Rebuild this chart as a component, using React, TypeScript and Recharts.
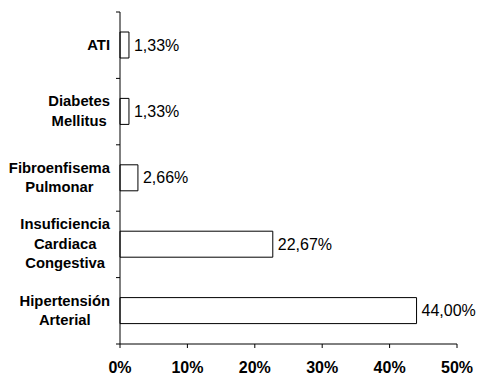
import { BarChart, Bar, XAxis, YAxis, LabelList } from 'recharts';

const categories = [
  ['ATI'],
  ['Diabetes', 'Mellitus'],
  ['Fibroenfisema', 'Pulmonar'],
  ['Insuficiencia', 'Cardiaca', 'Congestiva'],
  ['Hipertensión', 'Arterial'],
];
const percentages = [1.33, 1.33, 2.66, 22.67, 44.0];
const xTicks = [0, 10, 20, 30, 40, 50];

const data = categories.map((lines, i) => ({
  name: lines.join(' '),
  value: percentages[i],
}));

const W = 498;
const H = 381;
const M = { top: 12, right: 41, bottom: 0, left: 0 };
const X_AXIS_H = 37;
const Y_AXIS_W = 120;
const BAND = (H - M.top - X_AXIS_H) / categories.length;
const FONT = '"Liberation Sans", Arial, sans-serif';
const LABEL_FONT_SIZE = 14.8;
const LINE_H = 19.5;

let ctx: CanvasRenderingContext2D | null = null;
function textWidth(t: string) {
  if (!ctx) ctx = document.createElement('canvas').getContext('2d');
  if (!ctx) return t.length * 8;
  ctx.font = `bold ${LABEL_FONT_SIZE}px ${FONT}`;
  return ctx.measureText(t).width;
}

const CategoryTick = ({ x, y, index }: any) => {
  const lines = categories[index] || [];
  const maxW = Math.max(...lines.map(textWidth));
  const right = x - 6;
  const cx = right - maxW / 2;
  const firstBase = y - ((lines.length - 1) * LINE_H) / 2 + 4.5;
  const axisX = x + 4;
  return (
    <g>
      <line x1={axisX - 4} x2={axisX} y1={y - BAND / 2} y2={y - BAND / 2} stroke="#000" />
      {index === categories.length - 1 && (
        <line x1={axisX - 4} x2={axisX} y1={y + BAND / 2} y2={y + BAND / 2} stroke="#000" />
      )}
      <text
        x={cx}
        y={firstBase}
        textAnchor="middle"
        fontFamily={FONT}
        fontWeight="bold"
        fontSize={LABEL_FONT_SIZE}
        fill="#000"
      >
        {lines.map((l: string, i: number) => (
          <tspan key={i} x={cx} y={firstBase + i * LINE_H}>
            {l}
          </tspan>
        ))}
      </text>
    </g>
  );
};

export default function App() {
  return (
    <div style={{ position: 'absolute', left: 0, top: 0, width: W, height: H, background: '#fff' }}>
      <BarChart width={W} height={H} data={data} layout="vertical" margin={M}>
        <XAxis
          type="number"
          domain={[0, 50]}
          ticks={xTicks}
          tickFormatter={(v: number) => `${v}%`}
          height={X_AXIS_H}
          stroke="#000"
          tickSize={4}
          tickMargin={14}
          tick={{ fill: '#000', fontFamily: FONT, fontWeight: 'bold', fontSize: 16 }}
          interval={0}
        />
        <YAxis
          type="category"
          dataKey="name"
          width={Y_AXIS_W}
          stroke="#000"
          tickLine={false}
          tickSize={0}
          tickMargin={4}
          interval={0}
          tick={<CategoryTick />}
        />
        <Bar dataKey="value" barSize={26} fill="#fff" stroke="#000" strokeWidth={1} isAnimationActive={false}>
          <LabelList
            dataKey="value"
            position="right"
            offset={5}
            formatter={(v: any) => `${Number(v).toFixed(2).replace('.', ',')}%`}
            fill="#000"
            fontFamily={FONT}
            fontSize={16}
          />
        </Bar>
      </BarChart>
    </div>
  );
}
